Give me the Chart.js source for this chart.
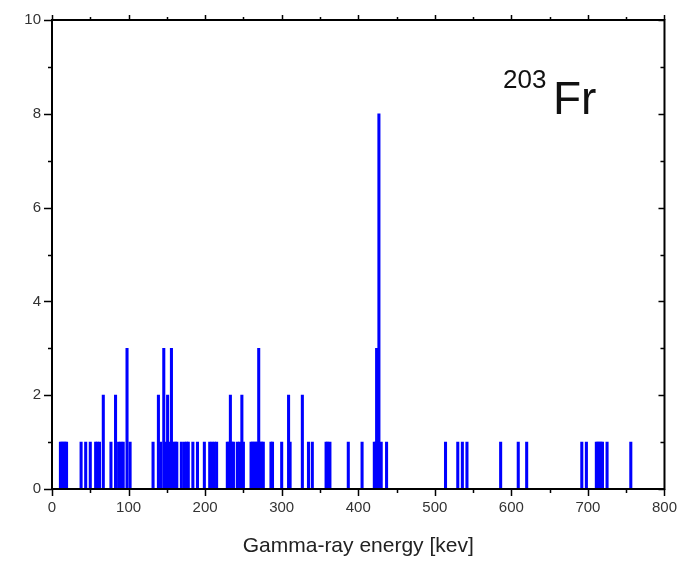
<!DOCTYPE html>
<html>
<head>
<meta charset="utf-8">
<script src="https://cdn.jsdelivr.net/npm/chart.js@4.4.1/dist/chart.umd.min.js"></script>
<style>
  html, body { margin: 0; padding: 0; background: #fff; }
  #wrap { position: relative; width: 687px; height: 563px; }
  #label { position: absolute; left: 0; top: 0; font-family: "Liberation Sans", Arial, sans-serif; color: #111; }
  #label .mass { position: absolute; left: 503px; top: 66px; font-size: 26px; line-height: 1; }
  #label .sym { position: absolute; left: 553px; top: 75px; font-size: 46px; line-height: 1; }
</style>
</head>
<body>
<div id="wrap">
  <canvas id="chart" width="687" height="563"></canvas>
  <div id="label"><span class="mass">203</span><span class="sym">Fr</span></div>
</div>
<script>
// gamma lines: energy (keV) and counts
const energies = [
  11, 13, 15, 17, 19, 38, 44, 50, 57, 59, 62, 67, 77, 83, 87, 90, 93, 98, 102,
  132, 139, 142, 146, 149, 151, 153, 156, 158, 161, 163, 169,
  173, 176, 178, 184, 190, 199, 206, 209, 212, 215,
  229, 231, 233, 235, 237, 242, 245, 248, 250,
  260, 262, 264, 266, 268, 270, 272, 274, 276, 286, 288, 300,
  309, 311, 327, 335, 340, 358, 360, 363, 387, 405,
  421, 423, 424, 427, 430, 437,
  514, 530, 536, 542, 586, 609, 620, 692, 698,
  711, 713, 715, 717, 719, 725, 756
];
const counts = [
  1, 1, 1, 1, 1, 1, 1, 1, 1, 1, 1, 2, 1, 2, 1, 1, 1, 3, 1,
  1, 2, 1, 3, 1, 2, 1, 3, 1, 1, 1, 1,
  1, 1, 1, 1, 1, 1, 1, 1, 1, 1,
  1, 1, 2, 1, 1, 1, 1, 2, 1,
  1, 1, 1, 1, 1, 3, 1, 1, 1, 1, 1, 1,
  2, 1, 2, 1, 1, 1, 1, 1, 1, 1,
  1, 1, 3, 8, 1, 1,
  1, 1, 1, 1, 1, 1, 1, 1, 1,
  1, 1, 1, 1, 1, 1, 1
];
const xMajor = [0, 100, 200, 300, 400, 500, 600, 700, 800];
const yMajor = [0, 2, 4, 6, 8, 10];

const points = energies.map((e, i) => ({ x: e, y: counts[i] }));

// box frame with major/minor ticks on all four sides
const framePlugin = {
  id: "frame",
  afterDraw(chart) {
    const { ctx, chartArea: a, scales } = chart;
    const xs = scales.x, ys = scales.y;
    ctx.save();
    ctx.strokeStyle = "#000";
    ctx.lineWidth = 2;
    ctx.strokeRect(a.left, a.top, a.right - a.left, a.bottom - a.top);
    ctx.lineWidth = 1.5;
    ctx.beginPath();
    for (let v = 0; v <= 800; v += 50) {
      const px = Math.round(xs.getPixelForValue(v)) + 0.5;
      const major = xMajor.includes(v);
      ctx.moveTo(px, a.bottom);
      ctx.lineTo(px, a.bottom + (major ? 7 : 4));
      ctx.moveTo(px, a.top);
      ctx.lineTo(px, a.top - (major ? 5 : 3));
    }
    for (let v = 0; v <= 10; v += 1) {
      const py = Math.round(ys.getPixelForValue(v)) + 0.5;
      const major = yMajor.includes(v);
      ctx.moveTo(a.left, py);
      ctx.lineTo(a.left - (major ? 8 : 4), py);
      ctx.moveTo(a.right, py);
      ctx.lineTo(a.right - (major ? 6 : 4), py);
    }
    ctx.stroke();
    ctx.restore();
  }
};

new Chart(document.getElementById("chart"), {
  type: "bar",
  data: {
    datasets: [{
      data: points,
      backgroundColor: "#0000ff",
      borderWidth: 0,
      barThickness: 2.4
    }]
  },
  options: {
    responsive: false,
    animation: false,
    layout: { padding: { top: 15, right: 22, left: 0, bottom: 0 } },
    plugins: { legend: { display: false }, tooltip: { enabled: false } },
    scales: {
      x: {
        type: "linear",
        min: 0,
        max: 800,
        offset: false,
        afterFit: (s) => { s.height = 74; },
        afterBuildTicks: (s) => { s.ticks = xMajor.map((v) => ({ value: v })); },
        grid: { display: false, drawTicks: false, offset: false },
        border: { display: false },
        ticks: {
          padding: 10,
          color: "#333",
          font: { family: "Liberation Sans, Arial", size: 15 },
          maxRotation: 0
        },
        title: {
          display: true,
          text: "Gamma-ray energy [kev]",
          color: "#222",
          font: { family: "Liberation Sans, Arial", size: 21 },
          padding: { top: 4, bottom: 4 }
        }
      },
      y: {
        min: 0,
        max: 10,
        afterFit: (s) => { s.width = 52; },
        afterBuildTicks: (s) => { s.ticks = yMajor.map((v) => ({ value: v })); },
        grid: { display: false, drawTicks: false },
        border: { display: false },
        ticks: {
          padding: 11,
          color: "#333",
          font: { family: "Liberation Sans, Arial", size: 15 }
        }
      }
    }
  },
  plugins: [framePlugin]
});
</script>
</body>
</html>
